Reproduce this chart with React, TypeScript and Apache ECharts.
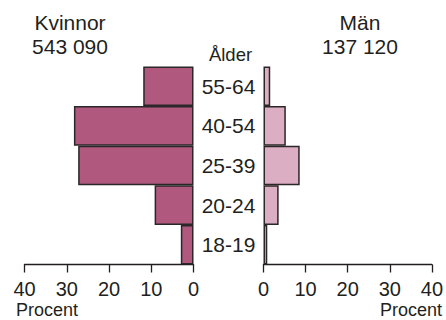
import React, { useEffect, useRef } from "react";
import * as echarts from "echarts";

const categories = ["18-19", "20-24", "25-39", "40-54", "55-64"];
const kvinnor = [3.0, 9.2, 27.3, 28.3, 11.9];
const man = [0.9, 3.6, 8.6, 5.3, 1.6];
const tickLabels = [0, 10, 20, 30, 40];
const kvinnorTotal = "543 090";
const manTotal = "137 120";

const FONT = "Liberation Sans, Arial, Helvetica, sans-serif";
const TXT = "#231f20";

export default function App() {
  const ref = useRef<HTMLDivElement>(null);
  useEffect(() => {
    const chart = echarts.init(ref.current!, null, { renderer: "svg" });
    const xCommon = {
      type: "value",
      min: 0,
      max: 40,
      interval: 10,
      splitLine: { show: false },
      axisLine: { show: true, lineStyle: { color: "#231f20", width: 1.3 } },
      axisTick: { show: true, length: 8, inside: false, lineStyle: { color: "#231f20", width: 1.3 } },
      axisLabel: {
        color: TXT,
        fontSize: 20,
        fontFamily: FONT,
        margin: 14,
        formatter: (v: number) => (tickLabels.includes(v) ? String(v) : ""),
      },
    };
    chart.setOption({
      animation: false,
      grid: [
        { left: 24.5, width: 169, top: 66.5, height: 198 },
        { left: 263.5, width: 169, top: 66.5, height: 198 },
      ],
      xAxis: [
        { ...xCommon, gridIndex: 0, inverse: true },
        { ...xCommon, gridIndex: 1 },
      ],
      yAxis: [
        {
          type: "category",
          gridIndex: 0,
          data: categories,
          position: "right",
          axisLine: { show: false },
          axisTick: { show: false },
          axisLabel: {
            color: TXT,
            fontSize: 21,
            fontFamily: FONT,
            align: "center",
            margin: 35,
            padding: [8, 0, 0, 0],
          },
        },
        {
          type: "category",
          gridIndex: 1,
          data: categories,
          axisLine: { show: false },
          axisTick: { show: false },
          axisLabel: { show: false },
        },
      ],
      series: [
        {
          type: "bar",
          xAxisIndex: 0,
          yAxisIndex: 0,
          data: kvinnor,
          barCategoryGap: "0%",
          itemStyle: { color: "#b1587f", borderColor: "#2b2627", borderWidth: 1.5 },
        },
        {
          type: "bar",
          xAxisIndex: 1,
          yAxisIndex: 1,
          data: man,
          barCategoryGap: "0%",
          itemStyle: { color: "#dbaec3", borderColor: "#2b2627", borderWidth: 1.5 },
        },
      ],
      graphic: [
        { type: "text", x: 70, y: 22, style: { text: "Kvinnor", fill: TXT, font: `21px ${FONT}`, textAlign: "center", textVerticalAlign: "middle" } },
        { type: "text", x: 70, y: 46, style: { text: kvinnorTotal, fill: TXT, font: `21px ${FONT}`, textAlign: "center", textVerticalAlign: "middle" } },
        { type: "text", x: 360, y: 22, style: { text: "Män", fill: TXT, font: `21px ${FONT}`, textAlign: "center", textVerticalAlign: "middle" } },
        { type: "text", x: 360, y: 46, style: { text: manTotal, fill: TXT, font: `21px ${FONT}`, textAlign: "center", textVerticalAlign: "middle" } },
        { type: "text", x: 230.5, y: 54, style: { text: "Ålder", fill: TXT, font: `18.5px ${FONT}`, textAlign: "center", textVerticalAlign: "middle" } },
        { type: "text", x: 16, y: 310, style: { text: "Procent", fill: TXT, font: `18px ${FONT}`, textAlign: "left", textVerticalAlign: "middle" } },
        { type: "text", x: 442, y: 310, style: { text: "Procent", fill: TXT, font: `18px ${FONT}`, textAlign: "right", textVerticalAlign: "middle" } },
      ],
    });
    return () => chart.dispose();
  }, []);
  return <div ref={ref} style={{ width: 446, height: 320, position: "absolute", left: 0, top: 0 }} />;
}
